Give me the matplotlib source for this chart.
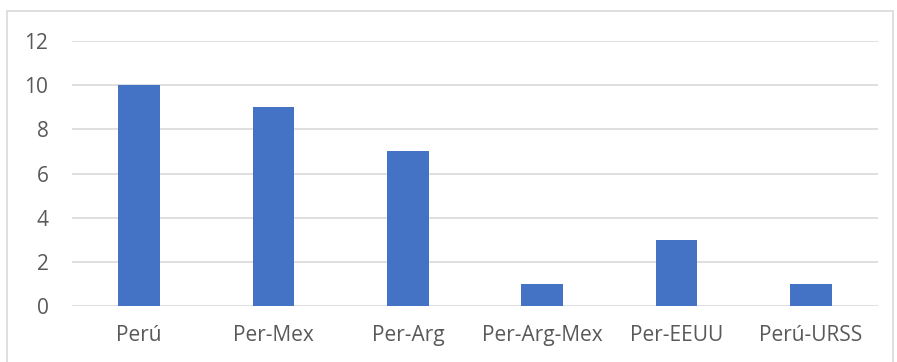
import matplotlib.pyplot as plt
from matplotlib.patches import Rectangle

categories = ['Perú', 'Per-Mex', 'Per-Arg', 'Per-Arg-Mex', 'Per-EEUU', 'Perú-URSS']
values = [10, 9, 7, 1, 3, 1]
yticks = [0, 2, 4, 6, 8, 10, 12]

plt.rcParams['font.family'] = ['Open Sans', 'DejaVu Sans']

fig = plt.figure(figsize=(8.97, 3.62), dpi=100)
ax = fig.add_axes([72 / 897, 1 - 306 / 362, 806 / 897, 265 / 362])

x = range(len(categories))
ax.bar(x, values, width=0.31, color='#4472C4', zorder=3)

ax.set_ylim(0, 12)
ax.set_xlim(-0.5, len(categories) - 0.5)
ax.set_yticks(yticks)
ax.set_xticks(list(x))
ax.set_xticklabels(categories)
ax.yaxis.grid(True, color='#d9d9d9', linewidth=1.2, zorder=0)
ax.tick_params(axis='both', length=0, labelsize=15, labelcolor='#595959')
ax.tick_params(axis='x', pad=14)
ax.tick_params(axis='y', pad=17)
for s in ax.spines.values():
    s.set_visible(False)

# chart border
fig.patches.append(Rectangle((7 / 897, -0.1), 886 / 897, 1.1 - 11 / 362,
                             transform=fig.transFigure, fill=False,
                             edgecolor='#d9d9d9', linewidth=1.2))

plt.savefig('out.png', dpi=100)
plt.close()
